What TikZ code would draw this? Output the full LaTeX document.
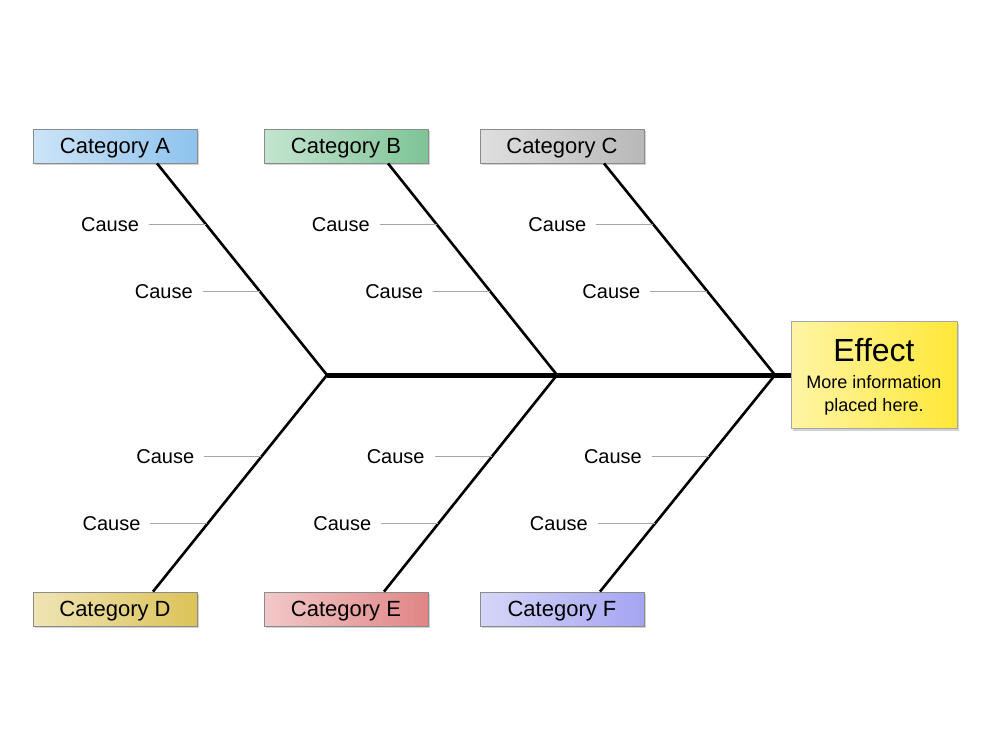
\documentclass[tikz,border=0pt]{standalone}
\usepackage{fontspec}
\setmainfont{Liberation Sans}
\usetikzlibrary{positioning,shadows}
\definecolor{catA}{HTML}{8EC3EE}
\definecolor{catB}{HTML}{7DC496}
\definecolor{catC}{HTML}{B8B8B8}
\definecolor{catD}{HTML}{DCC358}
\definecolor{catE}{HTML}{E08585}
\definecolor{catF}{HTML}{A4A4F2}
\definecolor{effectcol}{HTML}{FFE838}
\begin{document}
\begin{tikzpicture}[x=1pt,y=-1pt,
    category/.style={draw=gray!90,line width=0.8pt,left color=#1!45!white,right color=#1,minimum width=164pt,minimum height=34pt,inner sep=0pt,text height=20pt,text depth=4.2pt,font=\fontsize{22}{26}\selectfont,drop shadow={shadow xshift=2pt,shadow yshift=-2pt,opacity=.35}},
    effect/.style={draw=gray!70,line width=0.8pt,left color=effectcol!45!white,right color=effectcol,minimum width=166pt,minimum height=107pt,align=center,inner sep=0pt,text depth=-2pt,font=\fontsize{18}{23}\selectfont,drop shadow={shadow xshift=2pt,shadow yshift=-2pt,opacity=.35}},
    cause/.style={inner xsep=10pt,inner ysep=2pt,outer sep=0pt,font=\fontsize{20}{24}\selectfont},
    bone/.style={line width=2.6pt},
    twig/.style={gray!70,line width=0.8pt}]
       \fill[white] (0,0) rectangle (1000,750);
       \useasboundingbox (0,0) rectangle (1000,750);

       \node[category=catA] (catA) at (115,146) {Category A};
       \node[category=catB] (catB) at (346,146) {Category B};
       \node[category=catC] (catC) at (562,146) {Category C};
       \node[category=catD] (catD) at (115,609) {Category D};
       \node[category=catE] (catE) at (346,609) {Category E};
       \node[category=catF] (catF) at (562,609) {Category F};
       \node[effect] (effect) at (874,375) {{\fontsize{32}{36}\selectfont Effect}\\[4pt]More information\\placed here.};

       \coordinate (jA) at (327,375);
       \coordinate (jB) at (557,375);
       \coordinate (jC) at (775,375);

       \draw[line width=5pt] (jA) -- (jC) -- (effect.west);

       \foreach \j/\c in {jA/catA,jB/catB,jC/catC}{
         \draw[bone] (\j) -- ([xshift=42pt]\c.south) coordinate[pos=0.396] (\c-2) coordinate[pos=0.712] (\c-1);
       }
       \foreach \j/\c in {jA/catD,jB/catE,jC/catF}{
         \draw[bone] (\j) -- ([xshift=38pt]\c.north) coordinate[pos=0.378] (\c-1) coordinate[pos=0.687] (\c-2);
       }

       \foreach \c in {catA,catB,catC,catD,catE,catF}{
         \node[cause,left=57pt of \c-1] (\c-c1) {Cause};
         \node[cause,left=57pt of \c-2] (\c-c2) {Cause};
         \draw[twig] (\c-c1) -- (\c-1);
         \draw[twig] (\c-c2) -- (\c-2);
       }
     \end{tikzpicture}
\end{document}
